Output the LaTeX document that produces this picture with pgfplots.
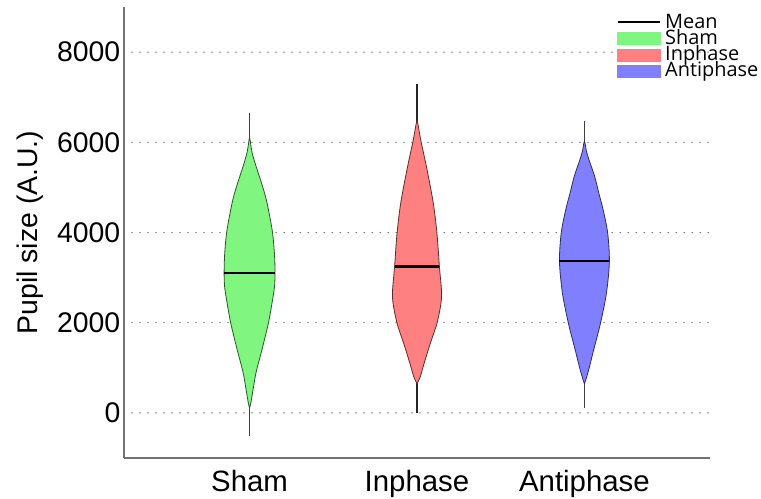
\documentclass[border=0pt]{standalone}
\usepackage{pgfplots}
\pgfplotsset{compat=1.18}
\usepackage{fontspec}
\setmainfont{Liberation Sans}
\newfontfamily\legfont{Open Sans}
\definecolor{shamc}{RGB}{128,245,128}
\definecolor{inc}{RGB}{255,128,128}
\definecolor{antic}{RGB}{128,128,255}
\definecolor{axc}{RGB}{115,115,115}
\begin{document}
\begin{tikzpicture}
\useasboundingbox (0,0) rectangle (761bp,499bp);
\begin{axis}[
  at={(124bp,41bp)}, anchor=south west,
  width=586bp, height=451bp, scale only axis,
  xmin=0.25, xmax=3.75, ymin=-1000, ymax=9000,
  axis x line=bottom, axis y line=left,
  axis line style={-, draw=axc, line width=1.6bp},
  xtick={1,2,3}, xticklabels={Sham,Inphase,Antiphase},
  ytick={0,2000,4000,6000,8000},
  major tick length=0pt,
  scaled ticks=false,
  /pgf/number format/1000 sep={},
  /pgf/number format/assume math mode=true,
  ymajorgrids,
  grid style={draw=black!60, line width=1.5bp, line cap=round, dash pattern=on 0bp off 8bp},
  xticklabel style={font=\fontsize{29.5}{29.5}\selectfont, anchor=base, yshift=-33.5bp},
  yticklabel style={font=\fontsize{28.5}{28.5}\selectfont, inner sep=3.5bp},
  ylabel={Pupil size (A.U.)},
  every axis y label/.style={at={(axis description cs:-0.160,0.5)}, rotate=90, anchor=center, font=\fontsize{28.5}{28.5}\selectfont},
  clip=false,
]
% whiskers
\addplot[black!75, line width=1.3bp] coordinates {(1,-520) (1,6660)};
\addplot[black!85, line width=1.3bp] coordinates {(2,0) (2,7290)};
\addplot[black!75, line width=1.3bp] coordinates {(3,118) (3,6470)};
% Sham violin
\addplot[fill=shamc, draw=shamc!35!black, line width=0.8bp, smooth, tension=0.5] coordinates {
(1,100) (0.991,250) (0.982,450) (0.961,900) (0.926,1400) (0.887,2000) (0.863,2500) (0.851,2800) (0.848,3100) (0.851,3500) (0.863,4000) (0.887,4500) (0.905,4800) (0.929,5100) (0.964,5500) (0.985,5770) (0.991,5900) (1,6100)
(1.009,5900) (1.015,5770) (1.036,5500) (1.071,5100) (1.095,4800) (1.113,4500) (1.137,4000) (1.149,3500) (1.152,3100) (1.149,2800) (1.137,2500) (1.113,2000) (1.074,1400) (1.039,900) (1.018,450) (1.009,250) (1,100)};
% Inphase violin
\addplot[fill=inc, draw=inc!35!black, line width=0.8bp, smooth, tension=0.5] coordinates {
(2,650) (1.982,787) (1.958,1092) (1.921,1537) (1.881,1983) (1.857,2430) (1.854,2718) (1.866,3238) (1.881,3990) (1.903,4657) (1.940,5392) (1.976,6023) (1.985,6200) (2,6470)
(2.015,6200) (2.024,6023) (2.060,5392) (2.097,4657) (2.119,3990) (2.134,3238) (2.146,2718) (2.143,2430) (2.119,1983) (2.079,1537) (2.042,1092) (2.018,787) (2,650)};
% Antiphase violin
\addplot[fill=antic, draw=antic!35!black, line width=0.8bp, smooth, tension=0.5] coordinates {
(3,640) (2.976,935) (2.946,1380) (2.905,1976) (2.869,2645) (2.851,3350) (2.861,3982) (2.888,4500) (2.914,4873) (2.939,5243) (2.973,5615) (2.988,5800) (3,6023)
(3.012,5800) (3.027,5615) (3.061,5243) (3.086,4873) (3.112,4500) (3.139,3982) (3.149,3350) (3.131,2645) (3.095,1976) (3.054,1380) (3.024,935) (3,640)};
% means
\addplot[black, line width=2.6bp] coordinates {(0.848,3100) (1.152,3100)};
\addplot[black, line width=2.6bp] coordinates {(1.866,3240) (2.134,3240)};
\addplot[black, line width=2.6bp] coordinates {(2.851,3365) (3.149,3365)};
\end{axis}
% legend
\draw[black, line width=1.8bp] (618bp,477.3bp) -- (660bp,477.3bp);
\fill[shamc] (617bp,454bp) rectangle (661bp,467.3bp);
\fill[inc] (617bp,437.3bp) rectangle (661bp,449.7bp);
\fill[antic] (617bp,420.7bp) rectangle (661bp,434bp);
\begin{scope}[every node/.style={anchor=base west, inner sep=0, font=\legfont\fontsize{20}{20}\selectfont}]
\node at (665bp,470.7bp) {Mean};
\node at (665bp,454.7bp) {Sham};
\node at (665bp,438bp) {Inphase};
\node at (665bp,422.3bp) {Antiphase};
\end{scope}
\end{tikzpicture}
\end{document}
